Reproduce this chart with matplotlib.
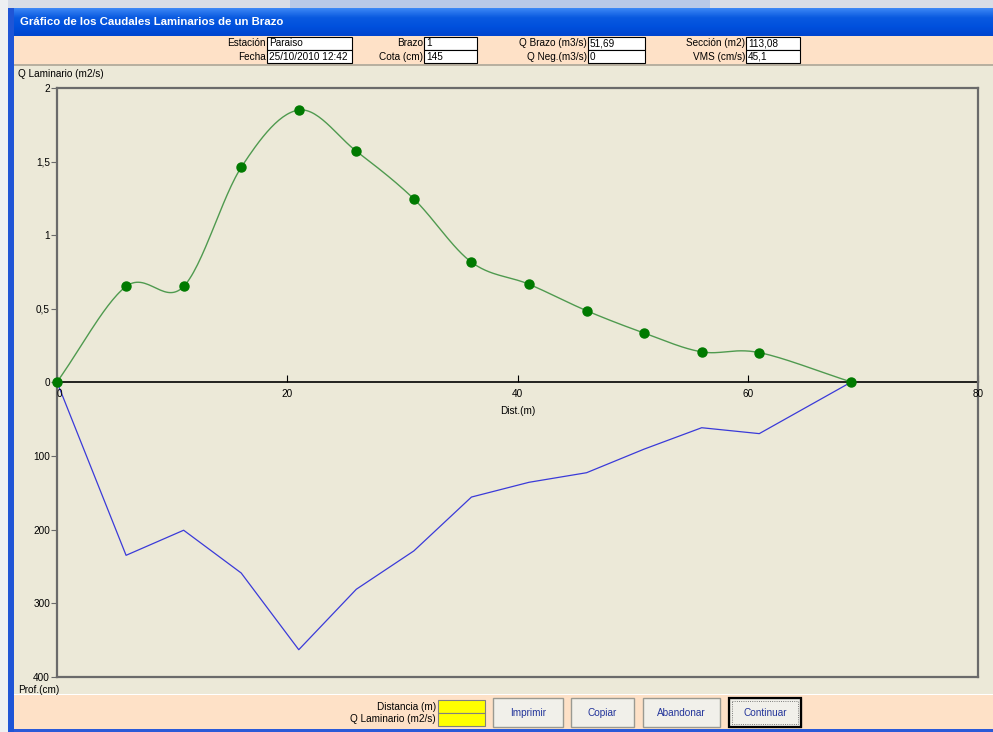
import numpy as np
import matplotlib
matplotlib.use("Agg")
import matplotlib.pyplot as plt
from matplotlib.patches import Rectangle

# data
dist = [0, 6, 11, 16, 21, 26, 31, 36, 41, 46, 51, 56, 61, 69]
q_lam = [0, 0.65, 0.65, 1.46, 1.85, 1.57, 1.245, 0.815, 0.665, 0.485, 0.333, 0.205, 0.2, 0]
prof = [0, 235, 201, 259, 363, 281, 229, 156, 136, 123, 91, 62, 70, 0]

q_ticks = [0, 0.5, 1, 1.5, 2]
q_labels = ["0", "0,5", "1", "1,5", "2"]
p_ticks = [100, 200, 300, 400]
x_ticks = [0, 20, 40, 60, 80]

header = [
    [("Estación", "Paraiso"), ("Fecha", "25/10/2010 12:42")],
    [("Brazo", "1"), ("Cota (cm)", "145")],
    [("Q Brazo (m3/s)", "51,69"), ("Q Neg.(m3/s)", "0")],
    [("Sección (m2)", "113,08"), ("VMS (cm/s)", "45,1")],
]
buttons = ["Imprimir", "Copiar", "Abandonar", "Continuar"]

plt.rcParams['font.family'] = ['Liberation Sans', 'DejaVu Sans']

W, H = 993, 732
BEIGE = '#ECE9D8'
PEACH = '#FEE1C7'
FS = 7.2


def smooth_curve(x, y, n=30, tension=0.5):
    # cardinal (Catmull-Rom) curve through the points
    x = np.asarray(x, float)
    y = np.asarray(y, float)
    px = np.concatenate([[2 * x[0] - x[1]], x, [2 * x[-1] - x[-2]]])
    py = np.concatenate([[2 * y[0] - y[1]], y, [2 * y[-1] - y[-2]]])
    xs, ys = [], []
    for i in range(1, len(px) - 2):
        t = np.linspace(0, 1, n)
        h00 = 2 * t ** 3 - 3 * t ** 2 + 1
        h10 = t ** 3 - 2 * t ** 2 + t
        h01 = -2 * t ** 3 + 3 * t ** 2
        h11 = t ** 3 - t ** 2
        mx0 = tension * (px[i + 1] - px[i - 1])
        mx1 = tension * (px[i + 2] - px[i])
        my0 = tension * (py[i + 1] - py[i - 1])
        my1 = tension * (py[i + 2] - py[i])
        xs.extend(h00 * px[i] + h10 * mx0 + h01 * px[i + 1] + h11 * mx1)
        ys.extend(h00 * py[i] + h10 * my0 + h01 * py[i + 1] + h11 * my1)
    return np.array(xs), np.array(ys)


fig = plt.figure(figsize=(W / 100, H / 100), dpi=100)

# window background drawn in pixel coordinates
bg = fig.add_axes([0, 0, 1, 1])
bg.set_xlim(0, W)
bg.set_ylim(H, 0)
bg.axis('off')

def rect(x0, y0, x1, y1, fc, ec='none', lw=0, **kw):
    bg.add_patch(Rectangle((x0, y0), x1 - x0, y1 - y0, facecolor=fc, edgecolor=ec, linewidth=lw, **kw))

rect(0, 0, W, H, '#d8dde6')
rect(0, 0, 8, H, '#eef0f2')
rect(290, 0, 710, 8, '#b9c9e8')
rect(8, 8, W, H, '#1f55d6')
# title bar gradient
grad = np.linspace(0, 1, 28).reshape(-1, 1)
cmap = matplotlib.colors.LinearSegmentedColormap.from_list('xp', ['#3b86f5', '#0a5ae0', '#0050dd', '#0045cf'])
bg.imshow(grad, extent=(14, W, 36, 8), cmap=cmap, aspect='auto', zorder=1)
bg.set_xlim(0, W)
bg.set_ylim(H, 0)
bg.text(20, 22, "Gráfico de los Caudales Laminarios de un Brazo", color='white',
        fontsize=8.2, fontweight='bold', va='center', ha='left', zorder=3)

rect(14, 36, W, 65, PEACH, zorder=2)
rect(14, 64, W, 66, '#b8b0a0', zorder=2)
rect(14, 66, W, 694, BEIGE, zorder=2)
rect(14, 694, W, 695, 'white', zorder=2)
rect(14, 695, W, 729, PEACH, zorder=2)
rect(14, 729, W, H, '#2a5ad8', zorder=2)

# header fields
cols = [(266, 352), (423, 477), (587, 645), (745, 800)]
rows = [(37, 50), (50, 63)]
for (lx, bx1), fields in zip(cols, header):
    for (y0, y1), (lab, val) in zip(rows, fields):
        rect(lx + 1, y0, bx1, y1, 'white', ec='black', lw=0.8, zorder=3)
        bg.text(lx, (y0 + y1) / 2, lab, ha='right', va='center', fontsize=FS, zorder=4)
        bg.text(lx + 3, (y0 + y1) / 2, val, ha='left', va='center', fontsize=FS, zorder=4)

# bottom fields
for (y0, y1), lab in zip([(700, 713), (713, 726)], ["Distancia (m)", "Q Laminario (m2/s)"]):
    rect(438, y0, 485, y1, '#ffff00', ec='#808080', lw=0.8, zorder=3)
    bg.text(436, (y0 + y1) / 2, lab, ha='right', va='center', fontsize=FS, zorder=4)

btn_x = [(493, 563), (571, 634), (643, 720), (729, 801)]
for (x0, x1), lab in zip(btn_x, buttons):
    rect(x0, 698, x1, 727, '#f1f0ea', ec='#9a9a92', lw=1, zorder=3)
    if lab == "Continuar":
        rect(x0, 698, x1, 727, 'none', ec='black', lw=1.6, zorder=4)
        rect(x0 + 3, 701, x1 - 3, 724, 'none', ec='#555555', lw=0.6, ls=':', zorder=4)
    bg.text((x0 + x1) / 2, 713, lab, ha='center', va='center', fontsize=FS,
            color='#22349a', zorder=5)

bg.text(18, 74, "Q Laminario (m2/s)", ha='left', va='center', fontsize=FS, zorder=4)
bg.text(18, 690, "Prof.(cm)", ha='left', va='center', fontsize=FS, zorder=4)

# chart axes
L, R, T, Z, B = 57, 978, 88, 382, 677
ax_p = fig.add_axes([L / W, 1 - B / H, (R - L) / W, (B - Z) / H])
ax_q = fig.add_axes([L / W, 1 - Z / H, (R - L) / W, (Z - T) / H], sharex=ax_p)

for ax in (ax_q, ax_p):
    ax.set_facecolor(BEIGE)
    for sp in ax.spines.values():
        sp.set_color('#6a6a6a')
        sp.set_linewidth(1.6)
    ax.tick_params(axis='y', direction='out', length=4, width=0.8, color='#6a6a6a',
                   labelsize=FS, pad=1)

ax_q.spines['bottom'].set_visible(False)
ax_p.spines['top'].set_visible(False)

ax_q.set_xlim(0, 80)
ax_q.set_ylim(0, 2)
ax_q.set_yticks(q_ticks)
ax_q.set_yticklabels(q_labels)
ax_q.set_xticks(x_ticks)
ax_q.set_xticklabels([str(v) for v in x_ticks])
ax_q.get_xticklabels()[0].set_ha('left')
ax_q.tick_params(axis='x', direction='in', length=5, width=0.8, color='black',
                 labelsize=FS, pad=5, labelbottom=True)
ax_q.set_xlabel("Dist.(m)", fontsize=FS, labelpad=5)
ax_q.axhline(0, color='black', lw=1.2, clip_on=False, zorder=2)

ax_p.set_ylim(400, 0)
ax_p.set_yticks(p_ticks)
ax_p.tick_params(axis='x', bottom=False, labelbottom=False)

sx, sy = smooth_curve(dist, q_lam)
ax_q.plot(sx, sy, color='#4f9a4f', lw=1.0, clip_on=False, zorder=3)
ax_q.plot(dist, q_lam, 'o', color='#007a00', ms=6.5, clip_on=False, zorder=4)

ax_p.plot(dist, prof, color='#3a3ad8', lw=0.9, clip_on=False, zorder=3)

fig.savefig("out.png", dpi=100)
